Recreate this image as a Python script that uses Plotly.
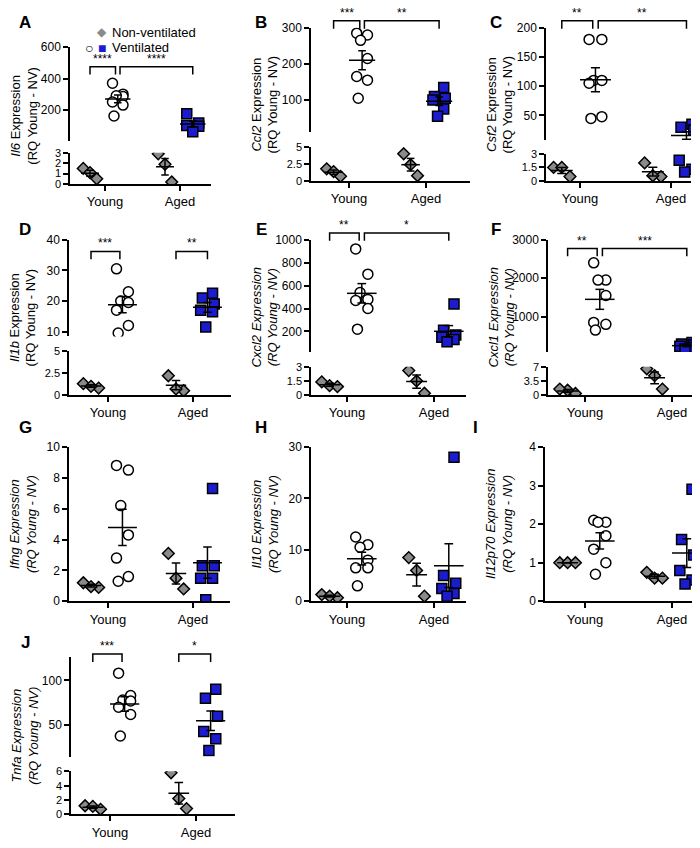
import numpy as np
import plotly.graph_objects as go

W, H = 700, 848
PADY = 8  # the page pushes the plot down a little

# ---- data (NV = non-ventilated, V = ventilated) ----
il6_young_nv = [1.5, 0.5, 1.1]
il6_young_v = [370, 300, 285, 290, 250, 230, 160]
il6_aged_nv = [2.9, 1.9, 0.2]
il6_aged_v = [175, 115, 100, 95, 60]

ccl2_young_nv = [1.8, 0.7, 1.4]
ccl2_young_v = [285, 280, 265, 215, 165, 155, 105]
ccl2_aged_nv = [4.0, 2.4, 0.8]
ccl2_aged_v = [135, 110, 105, 100, 75, 55]

csf2_young_nv = [1.5, 0.5, 1.5]
csf2_young_v = [180, 180, 110, 105, 110, 48, 45]
csf2_aged_nv = [2.0, 0.5, 0.6]
csf2_aged_v = [35, 30, 25, 2.3, 1.3, 1.0]

il1b_young_nv = [0.8, 1.3, 1.0]
il1b_young_v = [30.5, 23, 20, 19.5, 17, 12, 9.5]
il1b_aged_nv = [2.2, 0.5, 0.7]
il1b_aged_v = [22.5, 21, 19, 17, 16.5, 11.5]

cxcl2_young_nv = [1.0, 1.4, 0.9]
cxcl2_young_v = [920, 700, 540, 480, 470, 400, 220]
cxcl2_aged_nv = [2.6, 1.5, 0.2]
cxcl2_aged_v = [440, 210, 170, 150, 130, 110]

cxcl1_young_nv = [0.4, 1.2, 1.5]
cxcl1_young_v = [2400, 1950, 1950, 1550, 850, 800, 650]
cxcl1_aged_nv = [6.5, 4.8, 1.5]
cxcl1_aged_v = [330, 290, 260, 230, 200, 160]

ifng_young_nv = [0.9, 1.2, 0.95]
ifng_young_v = [8.8, 8.5, 6.2, 4.3, 2.8, 1.6, 1.3]
ifng_aged_nv = [3.1, 1.5, 0.8]
ifng_aged_v = [7.3, 2.3, 2.3, 1.5, 1.5, 0.1]

il10_young_nv = [0.7, 1.3, 1.0]
il10_young_v = [12.5, 11, 10.5, 8, 6.5, 6.5, 3]
il10_aged_nv = [8.5, 6, 1]
il10_aged_v = [28, 5, 3.5, 2.5, 1.5, 1]

il12_young_nv = [1.0, 1.0, 1.0]
il12_young_v = [2.1, 2.05, 2.05, 1.7, 1.35, 1.0, 0.7]
il12_aged_nv = [0.75, 0.6, 0.6]
il12_aged_v = [2.9, 1.6, 1.2, 0.8, 0.55, 0.45]

tnfa_young_nv = [0.7, 1.2, 1.1]
tnfa_young_v = [108, 83, 78, 77, 70, 62, 38]
tnfa_aged_nv = [5.8, 2.2, 0.8]
tnfa_aged_v = [90, 80, 60, 43, 35, 22]

groups = ["Young", "Aged"]

# ---- layout per panel (pixels in the reference) ----
panels = [
    dict(L="A", g="Il6", allit=False, d=[il6_young_nv, il6_young_v, il6_aged_nv, il6_aged_v],
         xg=(62, 97, 172, 203), up=(41, 137, [0, 600], [200, 400, 600]), lo=(149, 181, [0, 3], [0, 1, 2, 3]),
         br=[(1, 61, "****"), (2, 61, "****")], lx=(17, 16)),
    dict(L="B", g="Ccl2", allit=False, d=[ccl2_young_nv, ccl2_young_v, ccl2_aged_nv, ccl2_aged_v],
         xg=(303, 341, 418, 462), up=(21, 128, [11, 300], [100, 200, 300]), lo=(143, 178, [0, 5], [0, 2.5, 5]),
         br=[(1, 14, "***"), (2, 14, "**")], lx=(253, 16), tf="%.1f"),
    dict(L="C", g="Csf2", allit=False, d=[csf2_young_nv, csf2_young_v, csf2_aged_nv, csf2_aged_v],
         xg=(538, 572, 663, 683), up=(21, 136, [8, 200], [50, 100, 150, 200]), lo=(150, 178, [0, 3], [0, 1.5, 3]),
         br=[(1, 14, "**"), (2, 14, "**")], lx=(488, 16), tf="%.1f"),
    dict(L="D", g="Il1b", allit=False, d=[il1b_young_nv, il1b_young_v, il1b_aged_nv, il1b_aged_v],
         xg=(61, 100, 185, 223), up=(238, 337, [8.4, 40], [10, 20, 30, 40]), lo=(352, 397, [0, 5], [0, 2.5, 5]),
         br=[(1, 250, "***"), (3, 250, "**")], lx=(17, 228), tf="%.1f"),
    dict(L="E", g="Cxcl2", allit=True, d=[cxcl2_young_nv, cxcl2_young_v, cxcl2_aged_nv, cxcl2_aged_v],
         xg=(303, 339, 426, 458), up=(238, 353, [20, 1000], [200, 400, 600, 800, 1000]), lo=(368, 397, [0, 3], [0, 1.5, 3]),
         br=[(1, 231, "**"), (2, 231, "*")], lx=(253, 228), tf="%.1f"),
    dict(L="F", g="Cxcl1", allit=True, d=[cxcl1_young_nv, cxcl1_young_v, cxcl1_aged_nv, cxcl1_aged_v],
         xg=(540, 577, 664, 698), up=(238, 353, [77, 3000], [1000, 2000, 3000]), lo=(368, 397, [0, 7], [0, 3.5, 7]),
         br=[(1, 247, "**"), (2, 247, "***")], lx=(488, 228), tf="%.1f"),
    dict(L="G", g="Ifng", allit=True, d=[ifng_young_nv, ifng_young_v, ifng_aged_nv, ifng_aged_v],
         xg=(61, 100, 185, 222), up=None, lo=(450, 608, [0, 10], [0, 2, 4, 6, 8, 10]), br=[], lx=(17, 430)),
    dict(L="H", g="Il10", allit=True, d=[il10_young_nv, il10_young_v, il10_aged_nv, il10_aged_v],
         xg=(303, 339, 426, 458), up=None, lo=(450, 608, [0, 30], [0, 10, 20, 30]), br=[], lx=(253, 430)),
    dict(L="I", g="Il12p70", allit=True, d=[il12_young_nv, il12_young_v, il12_aged_nv, il12_aged_v],
         xg=(537, 577, 664, 698), up=None, lo=(450, 608, [0, 4], [0, 1, 2, 3, 4]), br=[], lx=(467, 430)),
    dict(L="J", g="Tnfa", allit=True, d=[tnfa_young_nv, tnfa_young_v, tnfa_aged_nv, tnfa_aged_v],
         xg=(63, 102, 188, 227), up=(665, 767, [15, 126], [50, 100]), lo=(782, 826, [0, 6], [0, 2, 4, 6]),
         br=[(1, 662, "***"), (3, 662, "*")], lx=(17, 650)),
]

jit = {3: [-0.09, 0.0, 0.09], 5: [-0.08, 0.08, -0.08, 0.08, 0.0],
       6: [0.06, -0.06, 0.08, -0.08, 0.06, -0.02],
       7: [-0.07, 0.07, -0.02, 0.07, -0.07, 0.07, -0.05]}

FW, FH = W, H - 2 * PADY


def X(p):
    return p / FW


def Y(p):
    return 1 - (p - PADY) / FH


def clamp(v):
    return min(1.0, max(0.0, v))


fig = go.Figure()
layout = {}
shapes, annos = [], []
n = 0
AX = dict(showgrid=False, zeroline=False, showline=True, linecolor="black", linewidth=1.5,
          ticks="outside", ticklen=5, tickwidth=1.5, tickcolor="black",
          tickfont=dict(size=12, color="black"))

GREY, BLUE = "#8a8a8a", "#1c1ccf"
styles = [
    dict(symbol="diamond", color=GREY, size=9),
    dict(symbol="circle", color="white", size=10),
    dict(symbol="diamond", color=GREY, size=9),
    dict(symbol="square", color=BLUE, size=10),
]
OFF_NV, OFF_V = -0.2, 0.17
off = [OFF_NV, OFF_V, OFF_NV, OFF_V]
base = [1, 1, 2, 2]

for p in panels:
    ax0, xy, xa, xe = p["xg"]
    u = xa - xy
    xr = [1 - (xy - ax0) / u, 2 + (xe - xa) / u]
    xdom = [clamp(X(ax0)), clamp(X(xe))]
    lo_max = p["lo"][2][1]
    segs = [("lo", p["lo"])] + ([("up", p["up"])] if p["up"] else [])
    refs = {}
    for kind, (t, b, rng, tv) in segs:
        n += 1
        xs, ys = ("x" if n == 1 else f"x{n}"), ("y" if n == 1 else f"y{n}")
        refs[kind] = (xs, ys)
        lx = dict(AX, domain=xdom, range=xr, anchor=ys, tickvals=[1, 2], ticktext=groups,
                  tickfont=dict(size=13, color="black"))
        if kind == "up":
            lx.update(visible=False)
        layout["xaxis" if n == 1 else f"xaxis{n}"] = lx
        small = kind == "lo" and p["up"] is not None
        layout["yaxis" if n == 1 else f"yaxis{n}"] = dict(
            AX, domain=[clamp(Y(b)), clamp(Y(t))], range=rng, anchor=xs, tickvals=tv,
            tickformat=p.get("tf", "") if kind == "lo" else "",
            tickfont=dict(size=11 if small else 12, color="black"))
        # visible window of this segment
        vmin = lo_max if kind == "up" else rng[0]
        vmax = rng[1] if kind == "up" else (rng[1] * 1.05 if p["up"] else rng[1] * 1.02)
        for i, vals in enumerate(p["d"]):
            v = np.array(vals, dtype=float)
            c = base[i] + off[i]
            order = np.argsort(-v)
            xj = np.empty(len(v))
            xj[order] = c + np.array(jit[len(v)])
            keep = (v > vmin) & (v <= vmax) if kind == "up" else (v >= vmin) & (v <= vmax)
            st = styles[i]
            if keep.any():
                fig.add_trace(go.Scatter(x=xj[keep], y=v[keep], mode="markers", xaxis=xs, yaxis=ys,
                                         showlegend=False,
                                         marker=dict(symbol=st["symbol"], size=st["size"], color=st["color"],
                                                     line=dict(color="black", width=1.5))))
            m = v.mean()
            se = v.std(ddof=1) / np.sqrt(len(v))
            hw = 0.17 if i % 2 else 0.12
            if vmin <= m <= min(vmax, rng[1]):
                fig.add_trace(go.Scatter(x=[c - hw, c + hw], y=[m, m], mode="lines", xaxis=xs, yaxis=ys,
                                         showlegend=False, line=dict(color="black", width=1.5)))
            lo_e, hi_e = max(m - se, vmin), min(m + se, rng[1])
            if lo_e < hi_e:
                fig.add_trace(go.Scatter(x=[c, c], y=[lo_e, hi_e], mode="lines",
                                         xaxis=xs, yaxis=ys, showlegend=False,
                                         line=dict(color="black", width=1.5)))
            for e in (m - se, m + se):
                if vmin <= e <= rng[1]:
                    fig.add_trace(go.Scatter(x=[c - 0.05, c + 0.05], y=[e, e], mode="lines", xaxis=xs,
                                             yaxis=ys, showlegend=False, line=dict(color="black", width=1.5)))
    # y title
    title = (f"<i>{p['g']} Expression<br>(RQ Young - NV)</i>" if p["allit"]
             else f"<i>{p['g']}</i> Expression<br>(RQ Young - NV)")
    top = p["up"][0] if p["up"] else p["lo"][0]
    annos.append(dict(x=X(ax0 - 46), y=Y((top + p["lo"][1]) / 2), xref="paper", yref="paper",
                      text=title, textangle=-90, showarrow=False, font=dict(size=13, color="black"),
                      xanchor="center", yanchor="middle"))
    annos.append(dict(x=X(p["lx"][0]), y=Y(p["lx"][1]), xref="paper", yref="paper", text=f"<b>{p['L']}</b>",
                      showarrow=False, font=dict(size=17, color="black"), xanchor="center", yanchor="middle"))
    # significance brackets
    xs_b = refs["up"][0] if "up" in refs else refs["lo"][0]
    for kind_b, yb, txt in p["br"]:
        if kind_b == 1:
            a, bb = 1 + OFF_NV, 1 + OFF_V - 0.03
        elif kind_b == 2:
            a, bb = 1 + OFF_V + 0.03, 2 + OFF_V
        else:
            a, bb = 2 + OFF_NV, 2 + OFF_V
        path = [(a, yb + 8), (a, yb), (bb, yb), (bb, yb + 8)]
        d = "M " + " L ".join(f"{xx},{Y(yy)}" for xx, yy in path)
        shapes.append(dict(type="path", path=d, xref=xs_b, yref="paper", line=dict(color="black", width=1.5)))
        annos.append(dict(x=(a + bb) / 2, y=Y(yb + 1), xref=xs_b, yref="paper", text=txt, showarrow=False,
                          yanchor="bottom", font=dict(size=12, color="black")))

# legend (panel A)
annos += [
    dict(x=X(87), y=Y(16), xref="paper", yref="paper", text=f"<span style='color:{GREY}'>◆</span>",
         showarrow=False, font=dict(size=12)),
    dict(x=X(102), y=Y(16), xref="paper", yref="paper", text="Non-ventilated", xanchor="left",
         showarrow=False, font=dict(size=13, color="black")),
    dict(x=X(75), y=Y(32), xref="paper", yref="paper", text="○", showarrow=False,
         font=dict(size=14, color="black")),
    dict(x=X(88), y=Y(32), xref="paper", yref="paper", text=f"<span style='color:{BLUE}'>■</span>",
         showarrow=False, font=dict(size=14)),
    dict(x=X(102), y=Y(32), xref="paper", yref="paper", text="Ventilated", xanchor="left",
         showarrow=False, font=dict(size=13, color="black")),
]

layout.update(width=FW, height=FH, margin=dict(l=0, r=0, t=0, b=0), plot_bgcolor="white",
              paper_bgcolor="white", font=dict(family="Liberation Sans, Arial", color="black"),
              shapes=shapes, annotations=annos)
fig.update_layout(**layout)
fig.write_html("out.html")
